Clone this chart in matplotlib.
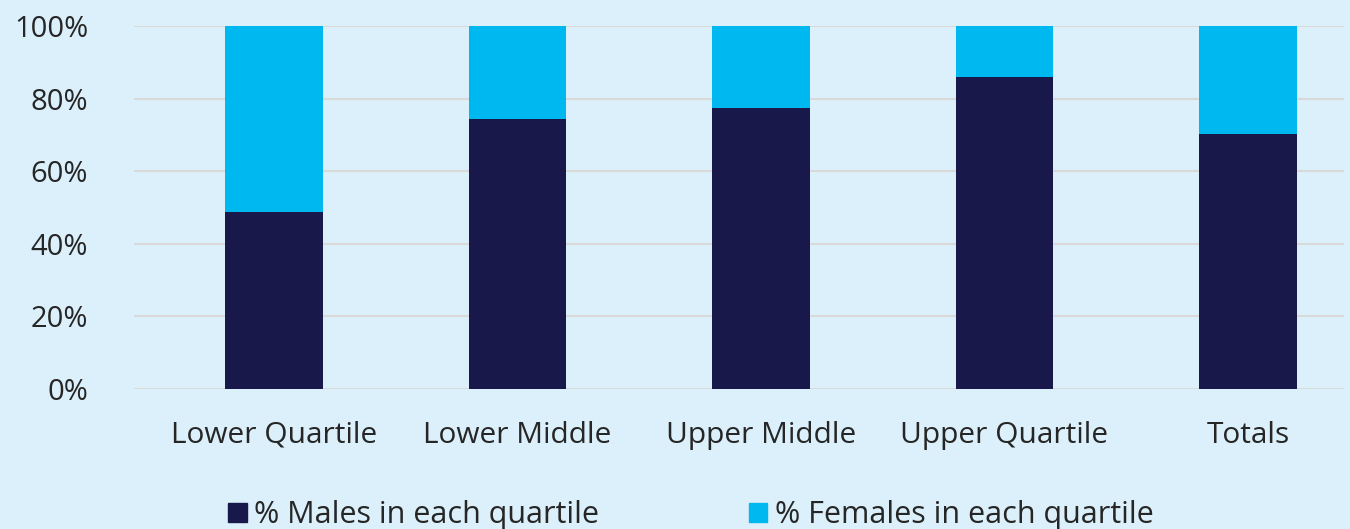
import matplotlib
matplotlib.use("Agg")
import matplotlib.pyplot as plt
from matplotlib.patches import Patch

categories = ["Lower Quartile", "Lower Middle", "Upper Middle", "Upper Quartile", "Totals"]
males = [48.8, 74.4, 77.5, 86.0, 70.2]
females = [51.2, 25.6, 22.5, 14.0, 29.8]
yticks = [0, 20, 40, 60, 80, 100]

bg = "#dbf0fa"
navy = "#18184a"
cyan = "#00b8f0"
txt = "#262626"

plt.rcParams["font.family"] = ["Open Sans", "DejaVu Sans"]

fig = plt.figure(figsize=(13.5, 5.29), dpi=100, facecolor=bg)
ax = fig.add_axes([134 / 1350, 140 / 529, 1210 / 1350, 363 / 529])
ax.set_facecolor(bg)

x = list(range(len(categories)))
ax.bar(x, males, width=0.402, color=navy, zorder=3, label="% Males in each quartile")
ax.bar(x, females, width=0.402, bottom=males, color=cyan, zorder=3,
       label="% Females in each quartile")

ax.set_xlim(-0.575, 4.394)
ax.set_ylim(0, 100)
ax.set_yticks(yticks)
ax.set_yticklabels([f"{t}%" for t in yticks], fontsize=21, color=txt)
ax.set_xticks(x)
ax.set_xticklabels(categories, fontsize=21.5, color=txt)
ax.tick_params(axis="y", length=0, pad=33)
ax.tick_params(axis="x", length=0, pad=23)
ax.grid(axis="y", color="#d9d9d9", linewidth=1.5, zorder=0)
for s in ax.spines.values():
    s.set_visible(False)

handles = [Patch(color=navy), Patch(color=cyan)]
fig.legend(handles, ["% Males in each quartile", "% Females in each quartile"],
           loc="center", bbox_to_anchor=(691 / 1350, 1 - 515 / 529), ncol=2,
           frameon=False, fontsize=22, handlelength=0.6, handleheight=0.6,
           handletextpad=0.25, columnspacing=4.9, labelcolor=txt)

fig.savefig("out.png", dpi=100, facecolor=bg)
